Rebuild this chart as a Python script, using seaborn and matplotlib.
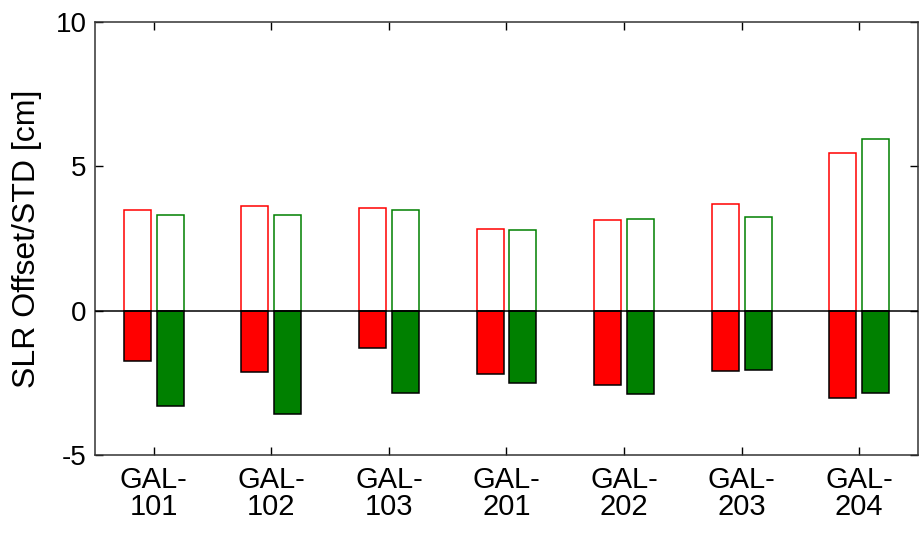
import matplotlib
matplotlib.use("Agg")
import matplotlib.pyplot as plt
import seaborn as sns
import pandas as pd

satellites = ["GAL-\n101", "GAL-\n102", "GAL-\n103", "GAL-\n201", "GAL-\n202", "GAL-\n203", "GAL-\n204"]
solutions = ["A", "B"]
std_a = [3.50, 3.64, 3.55, 2.83, 3.15, 3.69, 5.45]
std_b = [3.33, 3.33, 3.50, 2.79, 3.19, 3.24, 5.94]
offset_a = [-1.73, -2.13, -1.29, -2.18, -2.58, -2.09, -3.02]
offset_b = [-3.29, -3.59, -2.85, -2.49, -2.89, -2.04, -2.85]
yticks = [-5, 0, 5, 10]

colors = {"A": "#ff0000", "B": "#008000"}

std_df = pd.DataFrame({
    "sat": satellites * 2,
    "sol": ["A"] * len(satellites) + ["B"] * len(satellites),
    "val": std_a + std_b,
})
off_df = pd.DataFrame({
    "sat": satellites * 2,
    "sol": ["A"] * len(satellites) + ["B"] * len(satellites),
    "val": offset_a + offset_b,
})

sns.set_style("white")
plt.rcParams["font.family"] = ["Liberation Sans", "DejaVu Sans"]
plt.rcParams["text.color"] = "black"
plt.rcParams["axes.labelcolor"] = "black"
plt.rcParams["xtick.color"] = "black"
plt.rcParams["ytick.color"] = "black"

fig = plt.figure(figsize=(9.24, 5.34), dpi=100)
ax = fig.add_axes([0.1028, 0.1479, 0.8907, 0.8109])

sns.barplot(data=std_df, x="sat", y="val", hue="sol", order=satellites,
            hue_order=solutions, palette=colors, fill=False, width=0.56,
            gap=0.18, linewidth=1.1, errorbar=None, legend=False, ax=ax)
sns.barplot(data=off_df, x="sat", y="val", hue="sol", order=satellites,
            hue_order=solutions, palette=colors, fill=True, width=0.56,
            gap=0.18, linewidth=1.1, edgecolor="black", saturation=1,
            errorbar=None, legend=False, ax=ax)

ax.axhline(0, color="black", lw=1.1, zorder=5)

ax.set_xlim(-0.5, len(satellites) - 0.5)
ax.set_ylim(-5, 10)
ax.set_yticks(yticks)
ax.set_yticklabels([str(v) for v in yticks])
ax.set_xlabel("")
ax.set_ylabel("SLR Offset/STD [cm]", fontsize=23, labelpad=10, color="black")

ax.tick_params(axis="both", direction="in", length=6, width=1, color="black",
               labelcolor="black", top=True, right=True, bottom=True, left=True)
ax.tick_params(axis="y", labelsize=20, pad=6)
ax.tick_params(axis="x", labelsize=21, pad=8)
for lab in ax.get_xticklabels():
    lab.set_linespacing(0.95)

for sp in ax.spines.values():
    sp.set_visible(True)
    sp.set_color("#333333")
    sp.set_linewidth(1.1)

fig.savefig("out.png", dpi=100)
